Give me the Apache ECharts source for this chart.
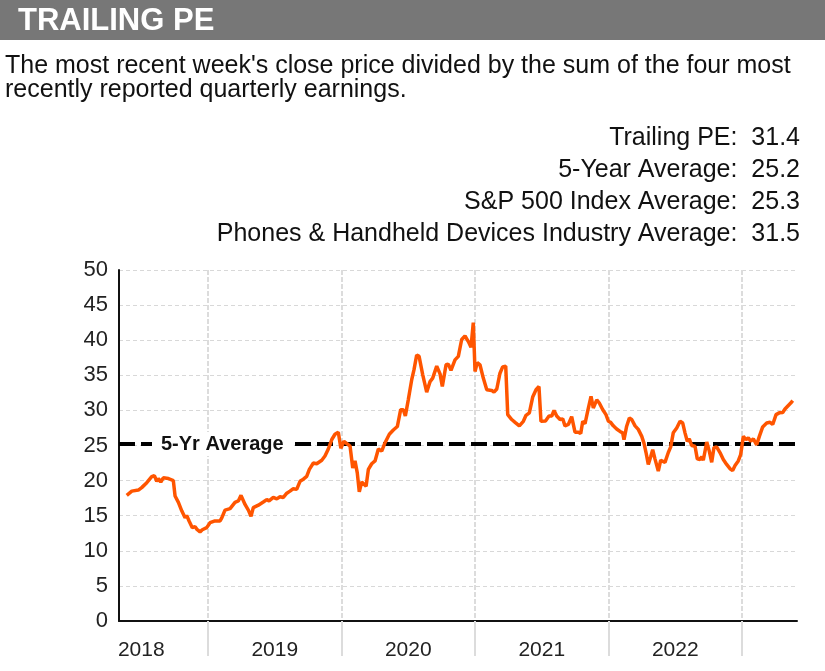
<!DOCTYPE html>
<html><head><meta charset="utf-8">
<script src="https://cdn.jsdelivr.net/npm/echarts@6/dist/echarts.min.js"></script>
<style>html,body{margin:0;padding:0;background:#fff}#c{width:825px;height:671px}</style>
</head><body><div id="c"></div><script>
// x values: fractional years; y values: trailing PE
const years = [
2018.391,2018.429,2018.478,2018.503,2018.541,2018.578,2018.598,2018.616,2018.628,2018.646,
2018.665,2018.703,2018.740,2018.753,2018.778,2018.803,2018.828,2018.840,2018.858,2018.882,
2018.903,2018.915,2018.940,2018.957,2018.990,2019.015,2019.052,2019.090,2019.103,2019.115,
2019.127,2019.165,2019.178,2019.202,2019.227,2019.247,2019.277,2019.302,2019.322,2019.339,
2019.377,2019.414,2019.440,2019.457,2019.489,2019.515,2019.539,2019.564,2019.590,2019.614,
2019.639,2019.664,2019.689,2019.714,2019.739,2019.759,2019.789,2019.814,2019.852,2019.876,
2019.901,2019.927,2019.951,2019.976,2019.995,2020.018,2020.064,2020.084,2020.101,2020.118,
2020.133,2020.151,2020.184,2020.201,2020.226,2020.251,2020.276,2020.301,2020.326,2020.358,
2020.388,2020.418,2020.443,2020.463,2020.478,2020.500,2020.526,2020.543,2020.563,2020.581,
2020.608,2020.638,2020.663,2020.683,2020.713,2020.738,2020.755,2020.783,2020.800,2020.820,
2020.850,2020.875,2020.900,2020.925,2020.950,2020.970,2020.987,2021.000,2021.017,2021.037,
2021.062,2021.088,2021.125,2021.142,2021.163,2021.187,2021.207,2021.230,2021.245,2021.275,
2021.300,2021.332,2021.362,2021.382,2021.407,2021.432,2021.457,2021.479,2021.494,2021.528,
2021.554,2021.575,2021.592,2021.612,2021.637,2021.657,2021.674,2021.699,2021.724,2021.749,
2021.774,2021.792,2021.807,2021.824,2021.844,2021.869,2021.886,2021.912,2021.931,2021.957,
2021.981,2021.999,2022.016,2022.036,2022.061,2022.086,2022.106,2022.116,2022.136,2022.156,
2022.174,2022.199,2022.223,2022.249,2022.266,2022.281,2022.298,2022.316,2022.331,2022.348,
2022.373,2022.391,2022.423,2022.448,2022.466,2022.485,2022.511,2022.536,2022.556,2022.573,
2022.590,2022.605,2022.623,2022.648,2022.665,2022.685,2022.698,2022.710,2022.736,2022.755,
2022.773,2022.790,2022.810,2022.835,2022.860,2022.885,2022.910,2022.930,2022.948,2022.972,
2022.990,2023.010,2023.030,2023.047,2023.065,2023.085,2023.110,2023.130,2023.155,2023.185,
2023.210,2023.230,2023.255,2023.279,2023.305,2023.322,2023.347,2023.365,2023.380
];
const pe = [
17.9,18.5,18.65,19.0,19.7,20.55,20.7,19.9,20.3,19.8,
20.4,20.3,20.0,17.8,16.9,15.7,14.7,15.05,14.25,13.3,
13.45,13.1,12.7,13.0,13.3,14.0,14.25,14.25,14.7,14.5,
15.8,16.0,15.9,16.9,17.1,17.9,16.6,15.8,14.9,16.15,
16.5,16.95,17.3,17.1,17.6,17.4,17.7,17.6,18.2,18.5,
18.85,18.75,19.9,20.2,20.6,21.6,22.5,22.4,22.9,23.5,
24.5,25.85,26.6,26.9,24.6,25.6,24.9,21.8,22.8,21.1,
18.4,19.8,19.2,21.6,22.4,22.8,24.5,24.2,25.4,26.6,
27.2,27.7,30.1,30.1,29.2,31.5,34.4,35.8,37.9,37.7,
35.1,32.6,34.1,34.6,36.3,35.2,33.4,36.5,36.6,35.7,
37.2,37.7,40.1,40.6,39.8,39.0,42.5,35.55,36.8,36.5,
34.6,32.95,32.85,32.6,33.05,35.3,36.2,36.3,29.4,28.7,
28.3,27.8,28.45,29.3,29.65,31.9,32.95,33.4,28.45,28.5,
29.2,29.2,30.0,29.2,28.7,28.8,27.8,28.0,29.1,26.9,
26.9,26.7,28.45,28.1,29.9,32.0,30.35,31.5,31.05,30.1,
29.4,28.45,28.3,27.8,27.35,27.0,26.8,25.85,27.75,28.9,
28.7,27.8,27.3,26.3,25.3,24.0,22.3,23.4,24.4,23.1,
21.35,22.9,22.6,24.0,24.8,26.8,27.5,28.45,28.2,26.8,
25.6,25.95,25.0,24.9,23.1,23.0,23.4,22.9,25.5,24.2,
22.6,24.7,24.8,24.0,23.0,22.3,21.7,21.45,22.15,22.8,
23.7,26.3,25.85,26.1,25.6,25.95,25.1,26.3,27.65,28.2,
28.3,28.0,29.4,29.65,29.7,30.2,30.7,31.05,31.4
];
const yearStarts = [2019, 2020, 2021, 2022, 2023];
const yearLabelPos = [2018.5, 2019.5, 2020.5, 2021.5, 2022.5];
const xMin = 2018.333, xMax = 2023.412;
const yTicks = [0, 50, 5]; // min, max, interval
const fiveYrAvg = 25.2;
const avgLabel = '5-Yr Average';
const titleText = 'TRAILING PE';
const description = "The most recent week's close price divided by the sum of the four most\nrecently reported quarterly earnings.";
const statLabels = ['Trailing PE', '5-Year Average', 'S&P 500 Index Average', 'Phones & Handheld Devices Industry Average'];
const statValues = ['31.4', '25.2', '25.3', '31.5'];

const FF = "'Liberation Sans', Arial, Helvetica, sans-serif";
const chart = echarts.init(document.getElementById('c'), null, {renderer: 'canvas'});

const titles = [
  {text: titleText, left: 18, top: 6, padding: 0,
   textStyle: {color: '#fff', fontSize: 31, fontWeight: 'bold', fontFamily: FF, lineHeight: 31}},
  {text: description, left: 5, top: 54, padding: 0,
   textStyle: {color: '#111', fontSize: 25, fontWeight: 'normal', fontFamily: FF, lineHeight: 24}}
].concat(statLabels.map((l, i) => ({
  text: l + ':  ' + statValues[i], right: 25, top: 125 + i * 32, padding: 0,
  textStyle: {color: '#111', fontSize: 25, fontWeight: 'normal', fontFamily: FF, lineHeight: 26}
})));

const data = years.map((y, i) => [y, pe[i]]);

chart.setOption({
  animation: false,
  backgroundColor: '#fff',
  graphic: [{type: 'rect', left: 0, top: 0, z: -1, shape: {width: 825, height: 40}, style: {fill: '#777777'}}],
  title: titles,
  grid: {left: 119, right: 28, top: 270, bottom: 50, containLabel: false, outerBoundsMode: 'none'},
  xAxis: [
    {type: 'value', min: xMin, max: xMax, position: 'bottom',
     axisLine: {show: true, onZero: false, lineStyle: {color: '#111', width: 2}},
     axisTick: {show: false, customValues: yearStarts},
     axisLabel: {show: false},
     splitLine: {show: true, lineStyle: {color: '#dcdcdc', width: 2, type: [5, 2]}}},
    {type: 'value', min: xMin, max: xMax, position: 'bottom', offset: 7,
     axisLine: {show: false},
     axisTick: {show: true, length: 35, customValues: yearStarts, lineStyle: {color: '#dcdcdc', width: 2}},
     axisLabel: {show: true, customValues: yearLabelPos, margin: 12, color: '#222', fontSize: 21, fontFamily: FF,
       formatter: v => String(Math.floor(v))},
     splitLine: {show: false}}
  ],
  yAxis: {type: 'value', min: yTicks[0], max: yTicks[1], interval: yTicks[2],
    axisLine: {show: true, lineStyle: {color: '#111', width: 2}},
    axisTick: {show: false},
    axisLabel: {color: '#222', fontSize: 22, fontFamily: FF, margin: 11, lineHeight: 22, padding: [6, 0, 0, 0]},
    splitLine: {show: true, lineStyle: {color: '#d8d8d8', width: 1, type: [4, 3]}}},
  series: [{
    type: 'line', xAxisIndex: 0, data: data, showSymbol: false, symbol: 'none',
    lineStyle: {color: '#FF5500', width: 3.5}, z: 3,
    markLine: {
      silent: true, symbol: 'none', z: 2,
      lineStyle: {color: '#000', width: 4, type: [16, 6]},
      label: {show: true, position: 'insideStart', distance: [33, 0], formatter: avgLabel,
        color: '#111', fontSize: 20, fontWeight: 'bold', fontFamily: FF, backgroundColor: '#fff', padding: [2, 9]},
      emphasis: {disabled: true},
      data: [{yAxis: fiveYrAvg}]
    }
  }]
});
</script></body></html>
